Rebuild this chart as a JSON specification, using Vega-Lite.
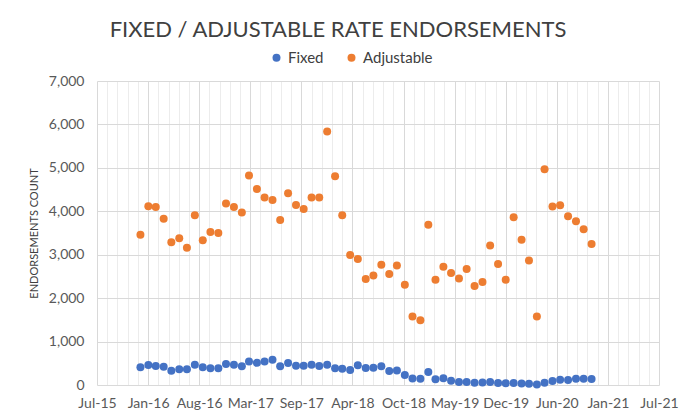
{
  "$schema": "https://vega.github.io/schema/vega-lite/v6.json",
  "autosize": {"type": "none"},
  "width": 562,
  "height": 304,
  "padding": {"left": 97, "top": 81, "right": 26, "bottom": 27},
  "background": "white",
  "title": {"text": "FIXED / ADJUSTABLE RATE ENDORSEMENTS", "frame": "group", "anchor": "middle", "dx": -40, "offset": 8, "fontSize": 22, "font": "Lato", "fontWeight": "normal", "color": "#404040"},
  "config": {"view": {"stroke": null}, "font": "Lato"},
  "data": {"values": [
    {"date": "2016-01-01", "Fixed": 409, "Adjustable": 3462},
    {"date": "2016-02-01", "Fixed": 462, "Adjustable": 4115},
    {"date": "2016-03-01", "Fixed": 439, "Adjustable": 4100},
    {"date": "2016-04-01", "Fixed": 423, "Adjustable": 3831},
    {"date": "2016-05-01", "Fixed": 330, "Adjustable": 3285},
    {"date": "2016-06-01", "Fixed": 362, "Adjustable": 3377},
    {"date": "2016-07-01", "Fixed": 362, "Adjustable": 3162},
    {"date": "2016-08-01", "Fixed": 469, "Adjustable": 3908},
    {"date": "2016-09-01", "Fixed": 409, "Adjustable": 3331},
    {"date": "2016-10-01", "Fixed": 385, "Adjustable": 3523},
    {"date": "2016-11-01", "Fixed": 385, "Adjustable": 3500},
    {"date": "2016-12-01", "Fixed": 485, "Adjustable": 4177},
    {"date": "2017-01-01", "Fixed": 469, "Adjustable": 4101},
    {"date": "2017-02-01", "Fixed": 431, "Adjustable": 3970},
    {"date": "2017-03-01", "Fixed": 540, "Adjustable": 4823},
    {"date": "2017-04-01", "Fixed": 510, "Adjustable": 4515},
    {"date": "2017-05-01", "Fixed": 540, "Adjustable": 4315},
    {"date": "2017-06-01", "Fixed": 580, "Adjustable": 4262},
    {"date": "2017-07-01", "Fixed": 431, "Adjustable": 3800},
    {"date": "2017-08-01", "Fixed": 505, "Adjustable": 4415},
    {"date": "2017-09-01", "Fixed": 445, "Adjustable": 4146},
    {"date": "2017-10-01", "Fixed": 445, "Adjustable": 4054},
    {"date": "2017-11-01", "Fixed": 465, "Adjustable": 4315},
    {"date": "2017-12-01", "Fixed": 440, "Adjustable": 4315},
    {"date": "2018-01-01", "Fixed": 469, "Adjustable": 5838},
    {"date": "2018-02-01", "Fixed": 385, "Adjustable": 4808},
    {"date": "2018-03-01", "Fixed": 377, "Adjustable": 3908},
    {"date": "2018-04-01", "Fixed": 346, "Adjustable": 2992},
    {"date": "2018-05-01", "Fixed": 455, "Adjustable": 2900},
    {"date": "2018-06-01", "Fixed": 393, "Adjustable": 2438},
    {"date": "2018-07-01", "Fixed": 400, "Adjustable": 2523},
    {"date": "2018-08-01", "Fixed": 431, "Adjustable": 2769},
    {"date": "2018-09-01", "Fixed": 325, "Adjustable": 2554},
    {"date": "2018-10-01", "Fixed": 335, "Adjustable": 2754},
    {"date": "2018-11-01", "Fixed": 230, "Adjustable": 2308},
    {"date": "2018-12-01", "Fixed": 150, "Adjustable": 1577},
    {"date": "2019-01-01", "Fixed": 146, "Adjustable": 1492},
    {"date": "2019-02-01", "Fixed": 300, "Adjustable": 3692},
    {"date": "2019-03-01", "Fixed": 131, "Adjustable": 2423},
    {"date": "2019-04-01", "Fixed": 155, "Adjustable": 2723},
    {"date": "2019-05-01", "Fixed": 100, "Adjustable": 2577},
    {"date": "2019-06-01", "Fixed": 70, "Adjustable": 2454},
    {"date": "2019-07-01", "Fixed": 70, "Adjustable": 2669},
    {"date": "2019-08-01", "Fixed": 50, "Adjustable": 2277},
    {"date": "2019-09-01", "Fixed": 55, "Adjustable": 2369},
    {"date": "2019-10-01", "Fixed": 69, "Adjustable": 3215},
    {"date": "2019-11-01", "Fixed": 45, "Adjustable": 2785},
    {"date": "2019-12-01", "Fixed": 40, "Adjustable": 2423},
    {"date": "2020-01-01", "Fixed": 45, "Adjustable": 3862},
    {"date": "2020-02-01", "Fixed": 35, "Adjustable": 3346},
    {"date": "2020-03-01", "Fixed": 30, "Adjustable": 2869},
    {"date": "2020-04-01", "Fixed": 12, "Adjustable": 1577},
    {"date": "2020-05-01", "Fixed": 54, "Adjustable": 4969},
    {"date": "2020-06-01", "Fixed": 92, "Adjustable": 4108},
    {"date": "2020-07-01", "Fixed": 123, "Adjustable": 4138},
    {"date": "2020-08-01", "Fixed": 115, "Adjustable": 3885},
    {"date": "2020-09-01", "Fixed": 146, "Adjustable": 3769},
    {"date": "2020-10-01", "Fixed": 146, "Adjustable": 3585},
    {"date": "2020-11-01", "Fixed": 139, "Adjustable": 3246}
  ]},
  "transform": [{"fold": ["Fixed", "Adjustable"], "as": ["series", "count"]}],
  "layer": [
    {
      "mark": {"type": "point", "opacity": 0},
      "encoding": {
        "x": {"field": "date", "type": "temporal",
          "scale": {"type": "utc", "nice": false, "domain": [1436918400000, 1626998400000]},
          "axis": {"orient": "bottom", "title": null, "labels": false, "ticks": false, "domain": false, "grid": true, "gridColor": "#ececec",
            "values": [1440374400000, 1443830400000, 1447286400000, 1450742400000, 1457654400000, 1461110400000, 1464566400000, 1468022400000, 1474934400000, 1478390400000, 1481846400000, 1485302400000, 1492214400000, 1495670400000, 1499126400000, 1502582400000, 1509494400000, 1512950400000, 1516406400000, 1519862400000, 1526774400000, 1530230400000, 1533686400000, 1537142400000, 1544054400000, 1547510400000, 1550966400000, 1554422400000, 1561334400000, 1564790400000, 1568246400000, 1571702400000, 1578614400000, 1582070400000, 1585526400000, 1588982400000, 1595894400000, 1599350400000, 1602806400000, 1606262400000, 1613174400000, 1616630400000, 1620086400000, 1623542400000]}}
      }
    },
    {
      "mark": {"type": "circle", "size": 64, "opacity": 1},
      "encoding": {
        "x": {"field": "date", "type": "temporal",
          "scale": {"type": "utc", "nice": false, "domain": [1436918400000, 1626998400000]},
          "axis": {"orient": "bottom", "title": null, "labelExpr": "utcFormat(datum.value, '%b-%y')", "labelFlush": false, "labelOverlap": false, "ticks": false, "domain": false, "grid": true, "gridColor": "#d9d9d9", "labelFontSize": 14, "labelColor": "#595959", "labelPadding": 11,
            "values": [1436918400000, 1454198400000, 1471478400000, 1488758400000, 1506038400000, 1523318400000, 1540598400000, 1557878400000, 1575158400000, 1592438400000, 1609718400000, 1626998400000]}},
        "y": {"field": "count", "type": "quantitative",
          "scale": {"domain": [0, 7000]},
          "axis": {"values": [0, 1000, 2000, 3000, 4000, 5000, 6000, 7000], "labelExpr": "format(datum.value, ',')", "title": "ENDORSEMENTS COUNT", "titleFontSize": 11, "titleFontWeight": "normal", "titleColor": "#404040", "titlePadding": 9, "labelFontSize": 14, "labelColor": "#595959", "labelPadding": 13, "ticks": false, "domain": false, "gridColor": "#d9d9d9"}},
        "color": {"field": "series", "type": "nominal",
          "scale": {"domain": ["Fixed", "Adjustable"], "range": ["#4472C4", "#ED7D31"]},
          "legend": {"orient": "none", "legendX": 172, "legendY": -31, "direction": "horizontal", "title": null, "symbolType": "circle", "symbolSize": 64, "symbolOpacity": 1, "labelFontSize": 15, "labelColor": "#404040", "columnPadding": 20}}
      }
    }
  ],
  "resolve": {"axis": {"x": "independent"}}
}
